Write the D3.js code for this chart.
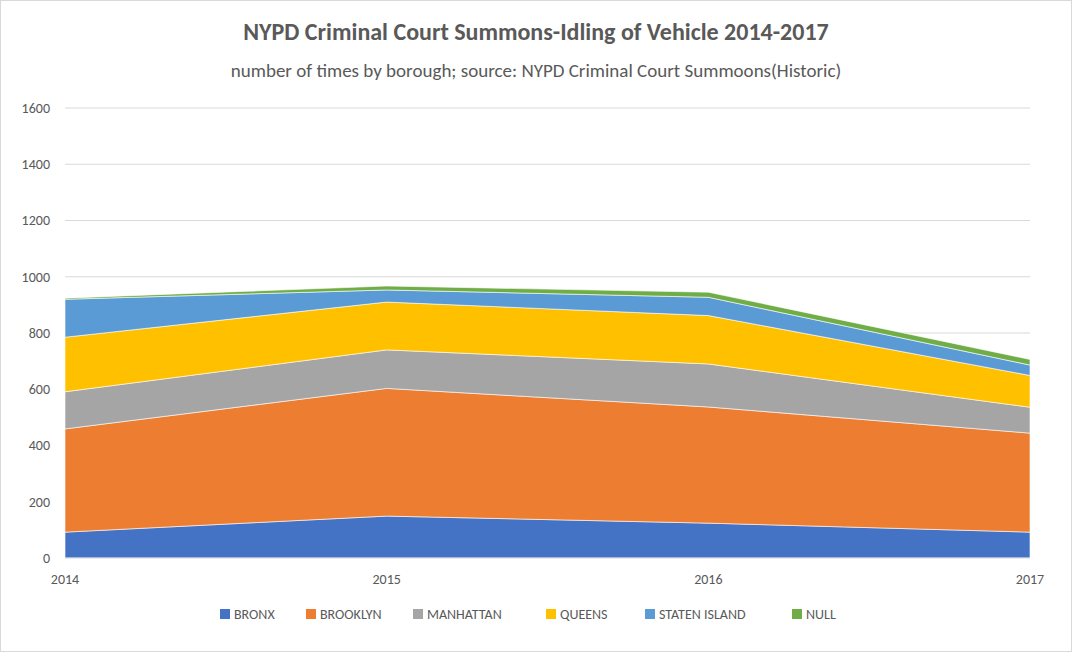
<!DOCTYPE html>
<html><head><meta charset="utf-8">
<script src="https://cdn.jsdelivr.net/npm/d3@7"></script>
<style>body{margin:0;background:#fff;font-family:Calibri,Carlito,"Open Sans",sans-serif;}</style>
</head><body>
<svg id="chart" width="1072" height="652"></svg>
<script>
var years = [2014, 2015, 2016, 2017];
var boroughs = ["BRONX", "BROOKLYN", "MANHATTAN", "QUEENS", "STATEN ISLAND", "NULL"];
var bronx = [92, 149, 124, 92];
var brooklyn = [367, 454, 413, 352];
var manhattan = [132, 137, 153, 92];
var queens = [194, 170, 172, 113];
var statenIsland = [135, 43, 65, 37];
var nullVals = [4, 14, 18, 20];
var yTicks = [0, 200, 400, 600, 800, 1000, 1200, 1400, 1600];

var series = [bronx, brooklyn, manhattan, queens, statenIsland, nullVals];
var colors = ["#4472C4", "#ED7D31", "#A5A5A5", "#FFC000", "#5B9BD5", "#70AD47"];

var svg = d3.select("#chart");
svg.append("rect").attr("x", 0.5).attr("y", 0.5).attr("width", 1071).attr("height", 651)
  .attr("fill", "#fff").attr("stroke", "#d9d9d9");

var rows = years.map(function(y, i) {
  var r = {year: y};
  boroughs.forEach(function(b, j) { r[b] = series[j][i]; });
  return r;
});

var x = d3.scaleLinear().domain([2014, 2017]).range([65, 1030]);
var y = d3.scaleLinear().domain([0, 1600]).range([558, 108]);

svg.append("g").selectAll("line").data(yTicks.slice(1)).enter().append("line")
  .attr("x1", 65).attr("x2", 1030)
  .attr("y1", function(d) { return y(d); }).attr("y2", function(d) { return y(d); })
  .attr("stroke", "#d9d9d9");

var stack = d3.stack().keys(boroughs)(rows);
var area = d3.area()
  .x(function(d) { return x(d.data.year); })
  .y0(function(d) { return y(d[0]); })
  .y1(function(d) { return y(d[1]); });

svg.append("g").selectAll("path").data(stack).enter().append("path")
  .attr("d", area)
  .attr("fill", function(d, i) { return colors[i]; })
  .attr("stroke", "#fff").attr("stroke-width", 0.6);

svg.append("line").attr("x1", 65).attr("x2", 1030).attr("y1", y(0)).attr("y2", y(0)).attr("stroke", "#d9d9d9");

svg.append("g").selectAll("text").data(yTicks).enter().append("text")
  .attr("x", 50).attr("y", function(d) { return y(d); }).attr("dy", "0.35em")
  .attr("text-anchor", "end").attr("font-size", 14).attr("fill", "#595959")
  .text(function(d) { return d; });

svg.append("g").selectAll("text").data(years).enter().append("text")
  .attr("x", function(d) { return x(d); }).attr("y", 584)
  .attr("text-anchor", "middle").attr("font-size", 14).attr("fill", "#595959")
  .text(function(d) { return d; });

svg.append("text").attr("x", 536).attr("y", 40).attr("text-anchor", "middle")
  .attr("font-size", 24).attr("font-weight", "bold").attr("fill", "#595959")
  .text("NYPD Criminal Court Summons-Idling of Vehicle 2014-2017");
svg.append("text").attr("x", 536).attr("y", 77).attr("text-anchor", "middle")
  .attr("font-size", 19).attr("fill", "#595959")
  .text("number of times by borough; source: NYPD Criminal Court Summoons(Historic)");

var legX = [220, 306, 413, 546, 645, 792];
var leg = svg.append("g").selectAll("g").data(boroughs).enter().append("g")
  .attr("transform", function(d, i) { return "translate(" + legX[i] + ",614)"; });
leg.append("rect").attr("x", 0).attr("y", -5).attr("width", 10).attr("height", 10)
  .attr("fill", function(d, i) { return colors[i]; });
leg.append("text").attr("x", 14).attr("dy", "0.35em").attr("font-size", 14).attr("fill", "#595959")
  .text(function(d) { return d; });
</script>
</body></html>
